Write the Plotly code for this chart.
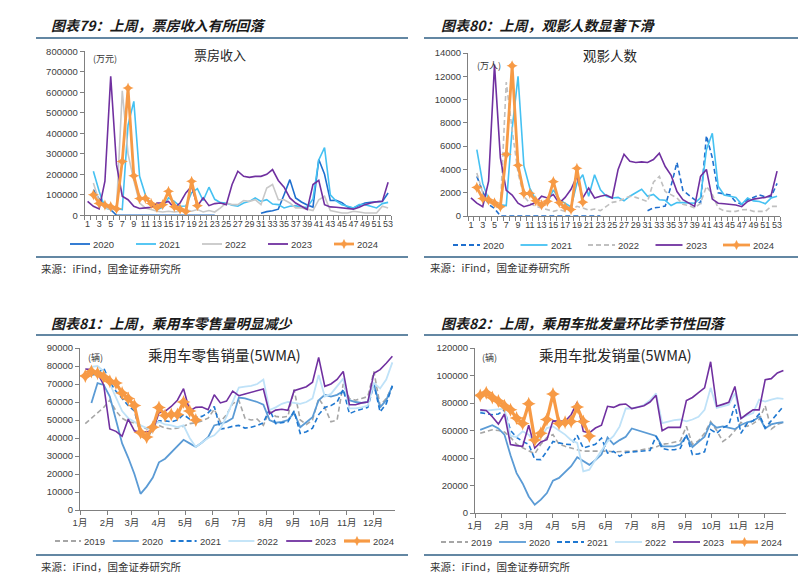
import math
import pandas as pd
import plotly.graph_objects as go

# ---------------- data ----------------
week_no = list(range(1, 54))

# 票房收入 (万元)
bo_2020 = [None, 125000, 80000, 55000, 28000,
           0, 0, 0, 0, 0, 0, 0, 0, 0, 0, 0, 0, 0, 0, 0, 0, 0, 0,
           None, None, None, None, None, None, None,
           10000, 18000, 22000, 30000, 100000, 174000, 85000, 65000, 50000, 40000,
           272000, 200000, 72000, 73000, 62000, 40000, 36000, 50000, 60000, 64000,
           65000, 68000, 109000]
bo_2021 = [None, 215000, 117000, 36000, 28000, 33000, 28000, 440000, 556000, 190000,
           100000, 52000, 28000, 39000, 85000, 68000, 44000, 45000, 110000, 130000,
           72000, 137000, 78000, 62000, 60000, 49000, 44000, 60000, 68000, 85000,
           68000, 76000, 55000, 52000, 36000, 44000, 47000, 39000, 39000, 80000,
           270000, 330000, 100000, 70000, 52000, 44000, 36000, 52000, 52000, 44000,
           36000, 57000, 63000]
bo_2022 = [None, 158000, 68000, 39000, 28000, 31000, 607000, 300000, 170000, 60000,
           36000, 28000, 20000, 16000, 20000, 16000, 20000, 28000, 20000, 28000,
           16000, 23000, 16000, 36000, 60000, 52000, 52000, 72000, 68000, 76000,
           52000, 133000, 150000, 76000, 76000, 60000, 36000, 36000, 28000, 23000,
           76000, 93000, 23000, 16000, 11000, 11000, 20000, 16000, 11000, 11000,
           11000, 44000, 36000]
bo_2023 = [68000, 44000, 31000, 166000, 678000, 247000, 93000, 76000, 44000, 33000,
           36000, 39000, 60000, 60000, 68000, 36000, 60000, 109000, 141000, 44000,
           85000, 47000, 57000, 60000, 52000, 150000, 215000, 190000, 185000, 190000,
           190000, 200000, 223000, 170000, 137000, 85000, 60000, 44000, 28000, 150000,
           171000, 52000, 41000, 39000, 36000, 36000, 30000, 39000, 52000, 60000,
           66000, 68000, 161000]
bo_2024 = [None, 100000, 58000, 50000, 42000, 32000, 263000, 621000, 193000, 82000,
           83000, 57000, 38000, 52000, 117000, 42000, 30000, 18000, 166000, 47000] + [None] * 33

# 观影人数 (万人)
au_2020 = [None, 3400, 2100, 1000, 650,
           0, 0, 0, 0, 0, 0, 0, 0, 0, 0, 0, 0, 0, 0, 0, 0, 0, 0,
           None, None, None, None, None, None, None,
           450, 700, 750, 850, 2600, 4600, 2200, 1800, 1400, 1100,
           6900, 5000, 2000, 1900, 1800, 1200, 1000, 1400, 1600, 1800,
           1650, 1650, 2800]
au_2021 = [None, 5700, 2800, 1400, 1100, 970, 900, 7500, 12000, 4300,
           2400, 1400, 970, 1100, 2250, 1400, 1100, 770, 2800, 3550,
           1700, 3550, 2250, 1700, 1550, 1600, 1300, 1700, 2000, 2300,
           1700, 1850, 1400, 1350, 900, 1150, 1150, 1100, 1100, 1550,
           5700, 7100, 2550, 1800, 1700, 1600, 1000, 1550, 1300, 1250,
           1050, 1550, 1700]
au_2022 = [None, 3700, 2000, 1300, 830, 690, 11500, 7400, 3700, 1700,
           1100, 830, 690, 540, 400, 540, 400, 540, 830, 690,
           490, 600, 460, 830, 1170, 1260, 1500, 1700, 1600, 1400,
           1250, 2900, 3400, 2100, 1800, 1550, 1000, 900, 690, 1100,
           2550, 1850, 690, 450, 400, 400, 540, 550, 400, 400,
           400, 830, 830]
au_2023 = [1550, 1100, 800, 3000, 13000, 5000, 2200, 1800, 1100, 800,
           950, 1150, 1700, 1550, 1850, 1100, 1600, 2300, 3400, 1550,
           2400, 1550, 1700, 1800, 1550, 4000, 5300, 4700, 4600, 4650,
           4600, 4850, 5400, 4250, 3500, 2100, 1400, 1100, 830, 3400,
           4000, 1450, 1100, 1050, 1000, 950, 800, 1250, 1450, 1550,
           1600, 1800, 3850]
au_2024 = [None, 2450, 1500, 1380, 1120, 800, 5300, 12900, 4350, 1930,
           1950, 1300, 950, 1260, 2950, 1150, 750, 550, 4100, 1190] + [None] * 33

# 乘用车零售销量 5WMA (辆), weekly
week_dates = pd.date_range("2023-01-07", periods=51, freq="7D")
rt_2019 = [48000, 51000, 54000, 57000, 61000, 55000, 51000, 49000, 48500, 47000,
           45000, 46000, 47000, 45500, 45000, 45500, 46500, 48000, 48500, 49500,
           51000, 56000, 49000, 53000, 59000, 61000, 51000, 50000, 50500, 47000,
           55000, 52000, 51500, 52000, 67000, 50000, 47500, 50000, 62000, 57000,
           49000, 50000, 70000, 62000, 61000, 62000, 63000, 77000, 58000, 62000,
           68500]
rt_2020 = [None, 59500, 70500, 69500, 63000, 50000, 37000, 29000, 20000, 9000,
           13000, 18000, 26500, 28500, 32000, 35000, 39000, 37000, 35000, 37500,
           40500, 47000, 48000, 49000, 51000, 62500, 62000, 61000, 60000, 58500,
           50000, 48500, 49000, 50000, 54000, 46000, 48500, 51500, 61000, 64000,
           63000, 64000, 66000, 61000, 60000, 59500, 60000, 70000, 57000, 61000,
           69000]
rt_2021 = [None, 75000, 75500, 79000, 71000, 66000, 62000, 58000, 55000, 42000,
           39500, 45000, 49500, 49500, 49000, 50000, 53000, 50500, 51500, 52000,
           54000, 57500, 45000, 45500, 46500, 47000, 45500, 46000, 47000, 48500,
           56000, 48000, 48500, 49000, 55000, 42500, 43500, 45500, 53000, 57000,
           58000, 60000, 67000, 53500, 55000, 56000, 57000, 70000, 54500, 59000,
           69000]
rt_2022 = [75000, 79500, 80000, 77000, 70000, 62000, 55000, 51000, 49000, 47000,
           45500, 47000, 49000, 47500, 47000, 46000, 47000, 40000, 35000, 37500,
           40000, 41500, 45000, 52000, 60000, 68000, 68500, 69000, 70000, 72500,
           55500, 57000, 59000, 60000, 59500, 59000, 60000, 62000, 75000, 63000,
           64500, 68500, 73000, 56500, 56500, 57000, 58000, 70500, 67500, 72500,
           82000]
rt_2023 = [78300, 78000, 76000, 69500, 45000, 43700, 41000, 50500, 44000, 43000,
           43500, 44000, 54000, 54800, 57500, 61000, 67400, 55000, 57000, 57200,
           55700, 64000, 59500, 60500, 66000, 63500, 64500, 65500, 66500, 67200,
           53500, 55500, 56000, 55400, 66300, 67500, 68500, 71000, 84800, 68700,
           70000, 72500, 77000, 58500, 58500, 59500, 60000, 76000, 78000, 81500,
           85400]
rt_2024 = [74500, 77000, 76000, 74000, 71500, 70500, 65000, 62000, 58000, 43000,
           40500, 46000, 57000, 52500, 53000, 53000, 60000, 55000, 50000] + [None] * 32

# 乘用车批发销量 5WMA (辆), weekly
ws_2019 = [58000, 59500, 60500, 60000, 59000, 55000, 50000, 47500, 45500, 43000,
           50000, 55000, 57000, 50000, 48500, 47000, 46000, 45000, 45000, 45500,
           45500, 45000, 44500, 44500, 44500, 45000, 45500, 46000, 47000, 48000,
           50000, 50500, 51500, 52500, 63000, 50000, 52500, 58000, 66500, 60000,
           52000, 55000, 60000, 66000, 63000, 65000, 68000, 78000, 61000, 64500,
           66000]
ws_2020 = [60500, 62000, 63800, 61500, 57000, 42000, 29000, 21500, 12000, 6000,
           9700, 14500, 23500, 25500, 30000, 34000, 40500, 38000, 35000, 38500,
           42500, 55000, 50000, 53000, 55500, 61500, 60000, 59000, 57000, 56000,
           48500, 48500, 48500, 50000, 56000, 48000, 51500, 55500, 65500, 62000,
           63000, 62000, 61000, 64000, 66000, 67000, 70000, 61500, 64500, 65500,
           66000]
ws_2021 = [73000, 72500, 71500, 72000, 75000, 60000, 55000, 52000, 50000, 39000,
           38800, 45000, 52000, 51000, 50000, 49700, 56500, 47300, 48500, 50000,
           54500, 43600, 44800, 41200, 44000, 44500, 44800, 45000, 45500, 55800,
           47000, 46000, 46000, 47000, 57000, 42400, 43000, 44500, 60600, 58000,
           62000, 64000, 78800, 58000, 65000, 67000, 72000, 61800, 67000, 72000,
           77600]
ws_2022 = [74000, 74500, 74500, 75000, 75900, 56000, 55300, 59400, 57000, 51000,
           55000, 61800, 63000, 60000, 57000, 53000, 51000, 30300, 31500, 38800,
           45000, 52000, 56000, 63000, 76000, 76000, 77000, 78500, 82000, 87000,
           65400, 66500, 67500, 68000, 66700, 68000, 70000, 75000, 91000, 76400,
           77500, 78800, 87000, 69000, 71000, 72700, 82400, 81000, 82500, 83600,
           83000]
ws_2023 = [75000, 74500, 70000, 64700, 72000, 49700, 49000, 48500, 63800, 47300,
           51600, 53300, 67000, 66700, 66700, 71500, 80700, 59400, 58200, 61800,
           63800, 77600, 76800, 78800, 79300, 75900, 76800, 78000, 80700, 85600,
           59900, 62300, 62300, 62300, 81700, 84000, 87500, 91000, 110000, 77600,
           79000, 80500, 92000, 68600, 72000, 75000, 75000, 97000, 97700, 101800,
           103700]
ws_2024 = [85500, 87500, 84000, 81500, 78000, 75000, 69000, 65000, 79500, 53000,
           58000, 68000, 86500, 65000, 66000, 66500, 77000, 66500, 56000] + [None] * 32

panel_titles = ["图表79：上周，票房收入有所回落", "图表80：上周，观影人数显著下滑",
                "图表81：上周，乘用车零售量明显减少", "图表82：上周，乘用车批发量环比季节性回落"]
chart_names = ["票房收入", "观影人数", "乘用车零售销量(5WMA)", "乘用车批发销量(5WMA)"]
unit_labels = ["(万元)", "(万人)", "(辆)", "(辆)"]
source_text = "来源：iFind，国金证券研究所"

# ---------------- styling ----------------
W, H = 810, 579
def X(p):
    return p / W
def Y(p):
    return 1 - p / H

NUM_FONT = "Liberation Sans, Arial, Noto Sans CJK SC, sans-serif"
CJK_FONT = "Noto Sans CJK SC, sans-serif"
AXC = "#808080"
TXT = "#404040"
ORANGE = "#f79a45"
PURPLE = "#7030a0"

fig = go.Figure()

def add_line(x, y, name, ax, color, width, dash="solid", marker=False, msize=9):
    xa = "x" if ax == 1 else f"x{ax}"
    ya = "y" if ax == 1 else f"y{ax}"
    kw = dict(x=x, y=y, name=name, xaxis=xa, yaxis=ya, showlegend=False,
              connectgaps=False, hoverinfo="skip",
              line=dict(color=color, width=width, dash=dash))
    if marker:
        kw["mode"] = "lines+markers"
        kw["marker"] = dict(symbol="star-diamond", size=msize, color=color)
    else:
        kw["mode"] = "lines"
    fig.add_trace(go.Scatter(**kw))

DASH = "5px,3px"

style_p1 = {"2020": ("#1f6fce", 1.6, "solid", False), "2021": ("#45c1f2", 1.6, "solid", False),
            "2022": ("#c8c8c8", 1.6, "solid", False), "2023": (PURPLE, 1.6, "solid", False),
            "2024": (ORANGE, 2.8, "solid", True)}
style_p2 = {"2020": ("#1f6fce", 1.6, DASH, False), "2021": ("#45c1f2", 1.6, "solid", False),
            "2022": ("#c0c0c0", 1.6, DASH, False), "2023": (PURPLE, 1.6, "solid", False),
            "2024": (ORANGE, 2.8, "solid", True)}
style_p34 = {"2019": ("#a6a6a6", 1.6, DASH, False), "2020": ("#5b9bd5", 1.8, "solid", False),
             "2021": ("#1f78d1", 1.6, DASH, False), "2022": ("#bfe2f8", 1.8, "solid", False),
             "2023": (PURPLE, 1.6, "solid", False), "2024": (ORANGE, 3.2, "solid", True)}

p1 = {"2020": bo_2020, "2021": bo_2021, "2022": bo_2022, "2023": bo_2023, "2024": bo_2024}
p2 = {"2020": au_2020, "2021": au_2021, "2022": au_2022, "2023": au_2023, "2024": au_2024}
p3 = {"2019": rt_2019, "2020": rt_2020, "2021": rt_2021, "2022": rt_2022, "2023": rt_2023, "2024": rt_2024}
p4 = {"2019": ws_2019, "2020": ws_2020, "2021": ws_2021, "2022": ws_2022, "2023": ws_2023, "2024": ws_2024}

for n, v in p1.items():
    c, w, d, m = style_p1[n]
    add_line(week_no, v, n, 1, c, w, d, m, 8)
for n, v in p2.items():
    c, w, d, m = style_p2[n]
    add_line(week_no, v, n, 2, c, w, d, m, 8)
for n, v in p3.items():
    c, w, d, m = style_p34[n]
    add_line(week_dates, v, n, 3, c, w, d, m, 10)
for n, v in p4.items():
    c, w, d, m = style_p34[n]
    add_line(week_dates, v, n, 4, c, w, d, m, 10)

# ---------------- axes ----------------
def dom_x(a, b):
    return [X(a), X(b)]
def dom_y(bottom, top):
    return [Y(bottom), Y(top)]

tickfont = dict(size=9.5, color=TXT, family=NUM_FONT)

def yaxis(domain, rng, dtick, anchor):
    return dict(domain=domain, range=rng, dtick=dtick, tick0=0, tickmode="linear",
                showline=True, linecolor=AXC, linewidth=1, ticks="outside", ticklen=4,
                tickcolor=AXC, tickfont=tickfont, showgrid=False, zeroline=False,
                anchor=anchor, tickformat="d", fixedrange=True, automargin=False)

def week_xaxis(domain, anchor):
    return dict(domain=domain, range=[0.5, 53.5], tickmode="linear", tick0=1, dtick=2,
                ticks="", showline=True, linecolor=AXC, linewidth=1,
                tickfont=dict(size=9, color=TXT, family=NUM_FONT), tickangle=0,
                showgrid=False, zeroline=False, anchor=anchor, fixedrange=True, automargin=False,
                minor=dict(ticks="outside", ticklen=4, tick0=0.5, dtick=1, tickcolor=AXC,
                           showgrid=False))

def month_xaxis(domain, anchor):
    return dict(domain=domain, type="date", range=["2023-01-01", "2023-12-26"],
                tick0="2023-01-01", dtick="M1", tickformat="%-m月", ticks="outside",
                ticklen=4, tickcolor=AXC, showline=True, linecolor=AXC, linewidth=1,
                tickfont=tickfont, tickangle=0, showgrid=False, zeroline=False, anchor=anchor,
                fixedrange=True, automargin=False)

fig.update_layout(
    xaxis=week_xaxis(dom_x(76.7, 383), "y"),
    yaxis=yaxis(dom_y(207.3, 43.3), [0, 800000], 100000, "x"),
    xaxis2=week_xaxis(dom_x(460, 772), "y2"),
    yaxis2=yaxis(dom_y(208, 45), [0, 14000], 2000, "x2"),
    xaxis3=month_xaxis(dom_x(72, 387), "y3"),
    yaxis3=yaxis(dom_y(502, 340), [0, 90000], 10000, "x3"),
    xaxis4=month_xaxis(dom_x(467, 778), "y4"),
    yaxis4=yaxis(dom_y(505, 340), [0, 120000], 20000, "x4"),
)

# ---------------- decorations ----------------
shapes = []
annos = []

def hline(x0, x1, y, color="#2f5f85", width=1.5):
    shapes.append(dict(type="line", xref="paper", yref="paper", x0=X(x0), x1=X(x1),
                       y0=Y(y), y1=Y(y), line=dict(color=color, width=width)))

def text(x, y, s, size, color=TXT, family=CJK_FONT, anchor="left", **fontkw):
    annos.append(dict(x=X(x), y=Y(y), xref="paper", yref="paper", text=s, showarrow=False,
                      xanchor=anchor, yanchor="middle",
                      font=dict(size=size, color=color, family=family, **fontkw)))

def star_path(cx, cy, r):
    pts = []
    for j in range(8):
        ang = math.pi / 2 + j * math.pi / 4
        rr = r if j % 2 == 0 else r * 0.45
        pts.append((cx + rr * math.cos(ang), cy - rr * math.sin(ang)))
    return "M " + " L ".join(f"{X(a):.5f},{Y(b):.5f}" for a, b in pts) + " Z"

def legend_row(styles, x0, spacing, seg, y):
    for i, (n, (c, w, d, m)) in enumerate(styles.items()):
        lx = x0 + i * spacing
        shapes.append(dict(type="line", xref="paper", yref="paper", x0=X(lx), x1=X(lx + seg),
                           y0=Y(y), y1=Y(y), line=dict(color=c, width=max(w, 1.8), dash=d)))
        if m:
            shapes.append(dict(type="path", xref="paper", yref="paper",
                               path=star_path(lx + seg / 2, y, 4.5), fillcolor=c,
                               line=dict(color=c, width=0.5)))
        text(lx + seg + 1, y, n, 9.5, family=NUM_FONT)

panel_geo = [
    # title_x, title_y, rule_x0, rule_x1, top_rule_y, bottom_rule_y, source_x, source_y
    (41, 17, 28, 400, 30, 249, 31, 260),
    (431, 17, 416, 790, 30, 249, 420, 259),
    (41, 315, 28, 400, 327, 547, 31, 558),
    (431, 315, 416, 790, 327, 547, 420, 558),
]
for t, g in zip(panel_titles, panel_geo):
    tx, ty, r0, r1, ry0, ry1, sx, sy = g
    text(tx, ty, t, 14, color="#1a1a1a", style="italic", weight="bold")
    hline(r0, r1, ry0)
    hline(r0, r1, ry1)
    text(sx, sy, source_text, 10.5, color="#333333")

text(212, 47, chart_names[0], 13, color="#262626", anchor="center")
text(602, 47, chart_names[1], 13.5, color="#262626", anchor="center")
text(217, 347, chart_names[2], 14.5, color="#262626", anchor="center")
text(607, 346, chart_names[3], 14.5, color="#262626", anchor="center")
text(83, 50, unit_labels[0], 9, color="#333333")
text(467, 57, unit_labels[1], 9, color="#333333")
text(78, 349, unit_labels[2], 9, color="#333333")
text(472, 349, unit_labels[3], 9, color="#333333")

legend_row(style_p1, 62, 66, 20, 236)
legend_row(style_p2, 445, 67.5, 27, 237)
legend_row(style_p34, 47, 57.8, 26, 533)
legend_row(style_p34, 433, 58, 27, 534)

fig.update_layout(
    width=W, height=H, margin=dict(l=0, r=0, t=0, b=0),
    paper_bgcolor="white", plot_bgcolor="white",
    showlegend=False, shapes=shapes, annotations=annos,
    font=dict(family=NUM_FONT, color=TXT),
)

fig.write_html("out.html")
